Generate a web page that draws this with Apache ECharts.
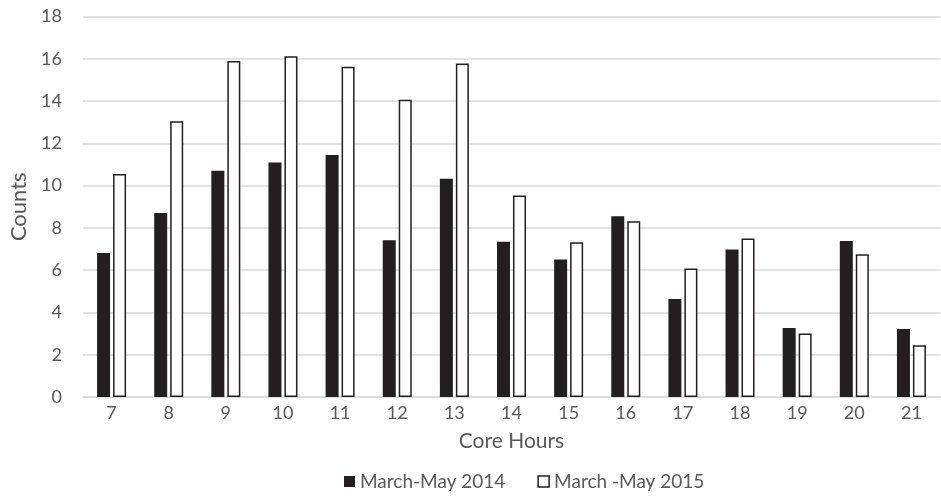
<!DOCTYPE html>
<html>
<head>
    <meta charset="utf-8">
    <title>Core Hours</title>
    <style>
        * { margin: 0; padding: 0; }
        html, body { width: 100%; height: 100%; background: #fff; }
    </style>
</head>
<body>
    <div id="main" style="width:941px;height:496px;"></div>
    <script src="https://cdn.jsdelivr.net/npm/echarts@6/dist/echarts.min.js"></script>
    <script>
        // data
        const hours = ['7', '8', '9', '10', '11', '12', '13', '14', '15', '16', '17', '18', '19', '20', '21'];
        const counts2014 = [6.81, 8.71, 10.7, 11.09, 11.45, 7.42, 10.32, 7.35, 6.5, 8.55, 4.64, 6.98, 3.27, 7.38, 3.22];
        const counts2015 = [10.55, 13.05, 15.9, 16.12, 15.62, 14.06, 15.78, 9.53, 7.32, 8.31, 6.08, 7.5, 3.0, 6.75, 2.45];
        const yTicks = { min: 0, max: 18, interval: 2 };

        const textColor = '#595959';
        const font = 'Lato, "Open Sans", sans-serif';

        const chart = echarts.init(document.getElementById('main'));
        chart.setOption({
            animation: false,
            textStyle: { fontFamily: font },
            grid: { left: 82, right: 1, top: 16.5, bottom: 99 },
            legend: {
                bottom: 0,
                left: 339,
                itemWidth: 11,
                itemHeight: 11,
                itemGap: 32,
                textStyle: { color: textColor, fontSize: 19, fontFamily: font },
                data: [
                    { name: 'March-May 2014', icon: 'rect', itemStyle: { color: '#231f20' } },
                    { name: 'March -May 2015', icon: 'rect', itemStyle: { color: '#fff', borderColor: '#231f20', borderWidth: 1.5 } }
                ]
            },
            xAxis: {
                type: 'category',
                data: hours,
                name: 'Core Hours',
                nameLocation: 'middle',
                nameGap: 34,
                nameTextStyle: { color: textColor, fontSize: 21, fontFamily: font },
                axisTick: { show: false },
                axisLine: { lineStyle: { color: '#d9d9d9', width: 1.5 } },
                axisLabel: { color: textColor, fontSize: 18, margin: 7, fontFamily: font }
            },
            yAxis: {
                type: 'value',
                min: yTicks.min,
                max: yTicks.max,
                interval: yTicks.interval,
                name: 'Counts',
                nameLocation: 'middle',
                nameGap: 53,
                nameTextStyle: { color: textColor, fontSize: 22, fontFamily: font },
                axisLine: { show: false },
                axisTick: { show: false },
                axisLabel: { color: textColor, fontSize: 18, margin: 21, fontFamily: font },
                splitLine: { lineStyle: { color: '#d9d9d9', width: 1.5 } }
            },
            series: [
                {
                    name: 'March-May 2014',
                    type: 'bar',
                    data: counts2014,
                    barWidth: 13,
                    barGap: '23%',
                    itemStyle: { color: '#231f20' }
                },
                {
                    name: 'March -May 2015',
                    type: 'bar',
                    data: counts2015,
                    barWidth: 13,
                    itemStyle: { color: '#fff', borderColor: '#231f20', borderWidth: 1.5 }
                }
            ]
        });
    </script>
</body>
</html>
